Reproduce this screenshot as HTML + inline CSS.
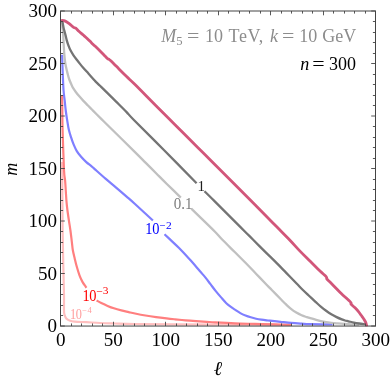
<!DOCTYPE html>
<html><head><meta charset="utf-8"><title>plot</title>
<style>html,body{margin:0;padding:0;background:#fff;overflow:hidden}body{width:390px;height:380px;position:relative;font-family:"Liberation Serif",serif}</style>
</head><body>
<svg width="390" height="380" viewBox="0 0 390 380" style="position:absolute;left:0;top:0;will-change:transform">
<rect width="390" height="380" fill="#fff"/>
<defs><clipPath id="cp"><rect x="60.00" y="10.50" width="316.00" height="316.05"/></clipPath></defs>
<g clip-path="url(#cp)" fill="none" stroke-linecap="butt" stroke-linejoin="round">
<path d="M61.90,162.00 C61.97,164.17 62.22,168.67 62.30,175.00 C62.38,181.33 62.35,190.83 62.40,200.00 C62.45,209.17 62.43,218.33 62.60,230.00 C62.77,241.67 63.17,259.17 63.40,270.00 C63.63,280.83 63.90,288.17 64.00,295.00 C64.10,301.83 63.88,307.62 64.00,311.00 C64.12,314.38 64.32,314.07 64.70,315.30 C65.08,316.53 65.50,317.53 66.30,318.40 C67.10,319.27 68.10,319.97 69.50,320.50 C70.90,321.03 71.90,321.32 74.70,321.60 C77.50,321.88 82.08,321.97 86.30,322.20 C90.52,322.43 95.22,322.78 100.00,323.00 C104.78,323.22 109.17,323.33 115.00,323.50 C120.83,323.67 125.00,323.85 135.00,324.00 C145.00,324.15 149.17,324.25 175.00,324.40 C200.83,324.55 270.83,324.82 290.00,324.90" stroke="#FFBFBF" stroke-width="2.20"/>
<path d="M62.10,95.30 C62.13,97.75 62.22,104.22 62.30,110.00 C62.38,115.78 62.32,120.00 62.60,130.00 C62.88,140.00 63.58,161.58 64.00,170.00 C64.42,178.42 64.80,177.00 65.10,180.50 C65.40,184.00 65.57,187.48 65.80,191.00 C66.03,194.52 66.23,198.43 66.50,201.60 C66.77,204.77 67.00,206.85 67.40,210.00 C67.80,213.15 68.38,217.00 68.90,220.50 C69.42,224.00 70.02,227.48 70.50,231.00 C70.98,234.52 71.42,238.43 71.80,241.60 C72.18,244.77 72.32,247.20 72.80,250.00 C73.28,252.80 74.03,255.60 74.70,258.40 C75.37,261.20 76.00,263.98 76.80,266.80 C77.60,269.62 78.53,272.75 79.50,275.30 C80.47,277.85 81.55,280.18 82.60,282.10 C83.65,284.02 85.15,285.87 85.80,286.80 C86.45,287.73 86.38,287.55 86.50,287.70" stroke="#FF7F7F" stroke-width="2.20"/>
<path d="M96.60,300.50 C97.38,300.92 99.47,302.10 101.30,303.00 C103.13,303.90 105.50,305.02 107.60,305.90 C109.70,306.78 111.62,307.55 113.90,308.30 C116.18,309.05 118.83,309.77 121.30,310.40 C123.77,311.03 126.42,311.58 128.70,312.10 C130.98,312.62 132.20,312.93 135.00,313.50 C137.80,314.07 141.98,314.90 145.50,315.50 C149.02,316.10 152.58,316.62 156.10,317.10 C159.62,317.58 163.45,318.03 166.60,318.40 C169.75,318.77 171.85,318.98 175.00,319.30 C178.15,319.62 182.00,320.00 185.50,320.30 C189.00,320.60 192.48,320.85 196.00,321.10 C199.52,321.35 203.43,321.58 206.60,321.80 C209.77,322.02 210.27,322.13 215.00,322.40 C219.73,322.67 228.33,323.15 235.00,323.40 C241.67,323.65 248.33,323.73 255.00,323.90 C261.67,324.07 269.00,324.25 275.00,324.40 C281.00,324.55 288.33,324.73 291.00,324.80" stroke="#FF7F7F" stroke-width="2.20"/>
<path d="M62.10,54.70 C62.20,57.58 62.47,66.12 62.70,72.00 C62.93,77.88 63.17,85.25 63.50,90.00 C63.83,94.75 64.32,97.00 64.70,100.50 C65.08,104.00 65.35,107.48 65.80,111.00 C66.25,114.52 66.88,118.43 67.40,121.60 C67.92,124.77 68.28,127.37 68.90,130.00 C69.52,132.63 70.30,134.95 71.10,137.40 C71.90,139.85 72.75,142.42 73.70,144.70 C74.65,146.98 75.57,149.08 76.80,151.10 C78.03,153.12 79.52,154.97 81.10,156.80 C82.68,158.63 84.55,160.52 86.30,162.10 C88.05,163.68 90.15,165.08 91.60,166.30 C93.05,167.52 92.68,167.33 95.00,169.40 C97.32,171.47 101.98,175.67 105.50,178.70 C109.02,181.73 112.58,184.62 116.10,187.60 C119.62,190.58 123.45,193.87 126.60,196.60 C129.75,199.33 130.62,200.02 135.00,204.00 C139.38,207.98 149.92,217.75 152.90,220.50" stroke="#7F7FFF" stroke-width="2.20"/>
<path d="M164.50,234.20 C165.42,235.07 167.33,236.87 170.00,239.40 C172.67,241.93 177.00,245.83 180.50,249.40 C184.00,252.97 187.75,257.15 191.00,260.80 C194.25,264.45 197.62,268.53 200.00,271.30 C202.38,274.07 203.55,275.25 205.30,277.40 C207.05,279.55 208.75,281.92 210.50,284.20 C212.25,286.48 214.03,288.90 215.80,291.10 C217.57,293.30 219.35,295.38 221.10,297.40 C222.85,299.42 224.55,301.53 226.30,303.20 C228.05,304.87 230.08,306.28 231.60,307.40 C233.12,308.52 233.95,308.95 235.40,309.90 C236.85,310.85 238.62,312.17 240.30,313.10 C241.98,314.03 243.75,314.80 245.50,315.50 C247.25,316.20 249.03,316.77 250.80,317.30 C252.57,317.83 254.35,318.30 256.10,318.70 C257.85,319.10 259.55,319.42 261.30,319.70 C263.05,319.98 265.15,320.23 266.60,320.40 C268.05,320.57 267.68,320.47 270.00,320.70 C272.32,320.93 277.00,321.43 280.50,321.80 C284.00,322.17 287.48,322.58 291.00,322.90 C294.52,323.22 298.43,323.48 301.60,323.70 C304.77,323.92 304.83,324.08 310.00,324.20 C315.17,324.32 328.83,324.37 332.60,324.40" stroke="#7F7FFF" stroke-width="2.20"/>
<path d="M62.00,21.50 C62.05,22.35 62.15,25.02 62.30,26.60 C62.45,28.18 62.72,29.03 62.90,31.00 C63.08,32.97 63.25,35.77 63.40,38.40 C63.55,41.03 63.63,43.98 63.80,46.80 C63.97,49.62 64.18,52.77 64.40,55.30 C64.62,57.83 64.85,60.13 65.10,62.00 C65.35,63.87 65.48,64.57 65.90,66.50 C66.32,68.43 67.03,71.43 67.60,73.60 C68.17,75.77 68.60,77.53 69.30,79.50 C70.00,81.47 71.15,83.95 71.80,85.40 C72.45,86.85 72.53,87.10 73.20,88.20 C73.87,89.30 74.82,90.68 75.80,92.00 C76.78,93.32 77.83,94.62 79.10,96.10 C80.37,97.58 81.97,99.37 83.40,100.90 C84.83,102.43 86.28,103.87 87.70,105.30 C89.12,106.73 90.50,108.10 91.90,109.50 C93.30,110.90 94.42,112.02 96.10,113.70 C97.78,115.38 99.68,117.30 102.00,119.60 C104.32,121.90 104.50,122.08 110.00,127.50 C115.50,132.92 129.08,146.25 135.00,152.10 C140.92,157.95 141.98,159.08 145.50,162.60 C149.02,166.12 152.58,169.68 156.10,173.20 C159.62,176.72 162.48,179.63 166.60,183.70 C170.72,187.77 178.43,195.28 180.80,197.60" stroke="#C0C0C0" stroke-width="2.30"/>
<path d="M191.30,208.70 C192.88,210.23 196.85,214.05 200.80,217.90 C204.75,221.75 211.40,228.15 215.00,231.80 C218.60,235.45 219.07,236.38 222.40,239.80 C225.73,243.22 231.15,248.47 235.00,252.30 C238.85,256.13 242.00,259.23 245.50,262.80 C249.00,266.37 252.48,270.05 256.00,273.70 C259.52,277.35 263.97,281.98 266.60,284.70 C269.23,287.42 269.30,287.45 271.80,290.00 C274.30,292.55 279.27,297.63 281.60,300.00 C283.93,302.37 284.23,302.72 285.80,304.20 C287.37,305.68 289.25,307.50 291.00,308.90 C292.75,310.30 294.53,311.53 296.30,312.60 C298.07,313.67 299.85,314.55 301.60,315.30 C303.35,316.05 305.35,316.62 306.80,317.10 C308.25,317.58 308.85,317.77 310.30,318.20 C311.75,318.63 313.75,319.22 315.50,319.70 C317.25,320.18 319.03,320.68 320.80,321.10 C322.57,321.52 324.35,321.90 326.10,322.20 C327.85,322.50 329.55,322.70 331.30,322.90 C333.05,323.10 334.32,323.22 336.60,323.40 C338.88,323.58 341.27,323.78 345.00,324.00 C348.73,324.22 356.67,324.58 359.00,324.70" stroke="#C0C0C0" stroke-width="2.30"/>
<path d="M62.00,21.00 C62.10,21.27 62.32,21.35 62.60,22.60 C62.88,23.85 63.42,27.18 63.70,28.50 C63.98,29.82 64.00,29.40 64.30,30.50 C64.60,31.60 65.10,33.50 65.50,35.10 C65.90,36.70 66.22,38.38 66.70,40.10 C67.18,41.82 67.77,43.70 68.40,45.40 C69.03,47.10 69.65,48.65 70.50,50.30 C71.35,51.95 72.45,53.72 73.50,55.30 C74.55,56.88 75.72,58.37 76.80,59.80 C77.88,61.23 78.93,62.58 80.00,63.90 C81.07,65.22 81.80,66.10 83.20,67.70 C84.60,69.30 86.65,71.55 88.40,73.50 C90.15,75.45 92.60,78.17 93.70,79.40 C94.80,80.63 93.95,79.85 95.00,80.90 C96.05,81.95 98.25,84.00 100.00,85.70 C101.75,87.40 102.82,88.45 105.50,91.10 C108.18,93.75 112.58,98.10 116.10,101.60 C119.62,105.10 123.63,109.03 126.60,112.10 C129.57,115.17 127.68,113.68 133.90,120.00 C140.12,126.32 153.45,139.47 163.90,150.00 C174.35,160.53 191.15,177.67 196.60,183.20" stroke="#747474" stroke-width="2.30"/>
<path d="M204.50,191.20 C206.25,192.93 211.50,198.12 215.00,201.60 C218.50,205.08 222.00,208.60 225.50,212.10 C229.00,215.60 232.48,219.08 236.00,222.60 C239.52,226.12 243.70,230.30 246.60,233.20 C249.50,236.10 250.33,236.93 253.40,240.00 C256.47,243.07 261.32,247.95 265.00,251.60 C268.68,255.25 272.00,258.40 275.50,261.90 C279.00,265.40 282.48,269.00 286.00,272.60 C289.52,276.20 293.78,280.60 296.60,283.50 C299.42,286.40 300.88,288.00 302.90,290.00 C304.92,292.00 306.60,293.53 308.70,295.50 C310.80,297.47 313.48,299.95 315.50,301.80 C317.52,303.65 319.03,305.10 320.80,306.60 C322.57,308.10 324.35,309.52 326.10,310.80 C327.85,312.08 329.55,313.25 331.30,314.30 C333.05,315.35 334.85,316.25 336.60,317.10 C338.35,317.95 340.40,318.83 341.80,319.40 C343.20,319.97 343.88,320.18 345.00,320.50 C346.12,320.82 347.03,320.95 348.50,321.30 C349.97,321.65 352.05,322.23 353.80,322.60 C355.55,322.97 357.07,323.23 359.00,323.50 C360.93,323.77 364.33,324.08 365.40,324.20" stroke="#747474" stroke-width="2.30"/>
<path d="M61.05,20.30 C61.76,20.43 63.89,20.50 65.30,21.10 C66.71,21.70 68.10,22.85 69.50,23.90 C70.90,24.95 72.65,26.68 73.70,27.40 C74.75,28.12 74.93,27.55 75.80,28.20 C76.67,28.85 77.67,30.17 78.90,31.30 C80.13,32.43 81.78,33.77 83.20,35.00 C84.62,36.23 86.00,37.38 87.40,38.70 C88.80,40.02 90.33,41.67 91.60,42.90 C92.87,44.13 93.55,44.70 95.00,46.10 C96.45,47.50 98.55,49.55 100.30,51.30 C102.05,53.05 104.22,55.32 105.50,56.60 C106.78,57.88 107.42,58.55 108.00,59.00 C108.58,59.45 108.53,59.00 109.00,59.30 C109.47,59.60 109.62,59.67 110.80,60.80 C111.98,61.93 113.47,63.47 116.10,66.10 C118.73,68.73 123.45,73.53 126.60,76.60 C129.75,79.67 130.10,79.65 135.00,84.50 C139.90,89.35 149.33,99.00 156.00,105.70 C162.67,112.40 168.33,118.02 175.00,124.70 C181.67,131.38 190.12,139.92 196.00,145.80 C201.88,151.68 200.47,150.17 210.30,160.00 C220.13,169.83 244.05,193.78 255.00,204.80 C265.95,215.82 270.22,220.23 276.00,226.10 C281.78,231.97 285.70,235.83 289.70,240.00 C293.70,244.17 296.53,247.50 300.00,251.10 C303.47,254.70 307.17,258.27 310.50,261.60 C313.83,264.93 317.37,268.57 320.00,271.10 C322.63,273.63 325.17,275.50 326.30,276.80 C327.43,278.10 326.10,277.93 326.80,278.90 C327.50,279.87 328.13,280.22 330.50,282.60 C332.87,284.98 337.67,289.95 341.00,293.20 C344.33,296.45 348.83,300.27 350.50,302.10 C352.17,303.93 350.28,303.28 351.00,304.20 C351.72,305.12 353.55,306.37 354.80,307.60 C356.05,308.83 357.43,310.32 358.50,311.60 C359.57,312.88 360.32,314.08 361.20,315.30 C362.08,316.52 363.07,317.77 363.80,318.90 C364.53,320.03 365.17,321.13 365.60,322.10 C366.03,323.07 366.20,323.95 366.40,324.70 C366.60,325.45 366.73,326.28 366.80,326.60" stroke="#D2567A" stroke-width="2.80"/>
</g>
<path d="M60.50,326.05 v-4.30 M60.50,11.00 v4.30 M60.50,326.00 h4.30 M375.50,326.00 h-4.30 M71.50,326.05 v-2.60 M71.50,11.00 v2.60 M60.50,315.50 h2.60 M375.50,315.50 h-2.60 M81.50,326.05 v-2.60 M81.50,11.00 v2.60 M60.50,305.50 h2.60 M375.50,305.50 h-2.60 M92.50,326.05 v-2.60 M92.50,11.00 v2.60 M60.50,294.50 h2.60 M375.50,294.50 h-2.60 M102.50,326.05 v-2.60 M102.50,11.00 v2.60 M60.50,284.50 h2.60 M375.50,284.50 h-2.60 M113.50,326.05 v-4.30 M113.50,11.00 v4.30 M60.50,273.50 h4.30 M375.50,273.50 h-4.30 M123.50,326.05 v-2.60 M123.50,11.00 v2.60 M60.50,263.50 h2.60 M375.50,263.50 h-2.60 M134.50,326.05 v-2.60 M134.50,11.00 v2.60 M60.50,252.50 h2.60 M375.50,252.50 h-2.60 M144.50,326.05 v-2.60 M144.50,11.00 v2.60 M60.50,242.50 h2.60 M375.50,242.50 h-2.60 M155.50,326.05 v-2.60 M155.50,11.00 v2.60 M60.50,231.50 h2.60 M375.50,231.50 h-2.60 M165.50,326.05 v-4.30 M165.50,11.00 v4.30 M60.50,221.00 h4.30 M375.50,221.00 h-4.30 M176.50,326.05 v-2.60 M176.50,11.00 v2.60 M60.50,210.50 h2.60 M375.50,210.50 h-2.60 M186.50,326.05 v-2.60 M186.50,11.00 v2.60 M60.50,200.50 h2.60 M375.50,200.50 h-2.60 M197.50,326.05 v-2.60 M197.50,11.00 v2.60 M60.50,189.50 h2.60 M375.50,189.50 h-2.60 M207.50,326.05 v-2.60 M207.50,11.00 v2.60 M60.50,179.50 h2.60 M375.50,179.50 h-2.60 M218.50,326.05 v-4.30 M218.50,11.00 v4.30 M60.50,168.50 h4.30 M375.50,168.50 h-4.30 M228.50,326.05 v-2.60 M228.50,11.00 v2.60 M60.50,158.50 h2.60 M375.50,158.50 h-2.60 M239.50,326.05 v-2.60 M239.50,11.00 v2.60 M60.50,147.50 h2.60 M375.50,147.50 h-2.60 M249.50,326.05 v-2.60 M249.50,11.00 v2.60 M60.50,137.50 h2.60 M375.50,137.50 h-2.60 M260.50,326.05 v-2.60 M260.50,11.00 v2.60 M60.50,126.50 h2.60 M375.50,126.50 h-2.60 M270.50,326.05 v-4.30 M270.50,11.00 v4.30 M60.50,116.00 h4.30 M375.50,116.00 h-4.30 M281.50,326.05 v-2.60 M281.50,11.00 v2.60 M60.50,105.50 h2.60 M375.50,105.50 h-2.60 M291.50,326.05 v-2.60 M291.50,11.00 v2.60 M60.50,95.50 h2.60 M375.50,95.50 h-2.60 M302.50,326.05 v-2.60 M302.50,11.00 v2.60 M60.50,84.50 h2.60 M375.50,84.50 h-2.60 M312.50,326.05 v-2.60 M312.50,11.00 v2.60 M60.50,74.50 h2.60 M375.50,74.50 h-2.60 M323.50,326.05 v-4.30 M323.50,11.00 v4.30 M60.50,63.50 h4.30 M375.50,63.50 h-4.30 M333.50,326.05 v-2.60 M333.50,11.00 v2.60 M60.50,53.50 h2.60 M375.50,53.50 h-2.60 M344.50,326.05 v-2.60 M344.50,11.00 v2.60 M60.50,42.50 h2.60 M375.50,42.50 h-2.60 M354.50,326.05 v-2.60 M354.50,11.00 v2.60 M60.50,32.50 h2.60 M375.50,32.50 h-2.60 M365.50,326.05 v-2.60 M365.50,11.00 v2.60 M60.50,21.50 h2.60 M375.50,21.50 h-2.60 M375.50,326.05 v-4.30 M375.50,11.00 v4.30 M60.50,11.00 h4.30 M375.50,11.00 h-4.30" stroke="#444" stroke-width="0.9" fill="none"/>
<rect x="60.50" y="11.00" width="315.00" height="315.05" fill="none" stroke="#444" stroke-width="1"/>
<g font-family="Liberation Serif, serif" font-size="18px" fill="#000">
<text transform="translate(60.80,346.00) scale(1.06,1)" text-anchor="middle">0</text>
<text transform="translate(57.10,332.10) scale(1.06,1)" text-anchor="end">0</text>
<text transform="translate(113.30,346.00) scale(1.06,1)" text-anchor="middle">50</text>
<text transform="translate(57.10,279.60) scale(1.06,1)" text-anchor="end">50</text>
<text transform="translate(165.80,346.00) scale(1.06,1)" text-anchor="middle">100</text>
<text transform="translate(57.10,227.10) scale(1.06,1)" text-anchor="end">100</text>
<text transform="translate(218.30,346.00) scale(1.06,1)" text-anchor="middle">150</text>
<text transform="translate(57.10,174.60) scale(1.06,1)" text-anchor="end">150</text>
<text transform="translate(270.80,346.00) scale(1.06,1)" text-anchor="middle">200</text>
<text transform="translate(57.10,122.10) scale(1.06,1)" text-anchor="end">200</text>
<text transform="translate(323.30,346.00) scale(1.06,1)" text-anchor="middle">250</text>
<text transform="translate(57.10,69.60) scale(1.06,1)" text-anchor="end">250</text>
<text transform="translate(375.80,346.00) scale(1.06,1)" text-anchor="middle">300</text>
<text transform="translate(57.10,17.10) scale(1.06,1)" text-anchor="end">300</text>
<text transform="translate(17,169.2) rotate(-90)" text-anchor="middle" font-style="italic">m</text>
<text x="218.0" y="375.3" text-anchor="middle" font-style="italic" font-size="20px">ℓ</text>
<text x="161.30" y="41.80" fill="#8c8c8c"><tspan font-style="italic">M</tspan><tspan font-size="12.7px" dy="3.2">5</tspan></text>
<text transform="translate(187.10,41.80) scale(1.22,1)" fill="#8c8c8c">=</text>
<text x="205.00" y="41.80" fill="#8c8c8c">10</text>
<text x="228.60" y="41.80" fill="#8c8c8c"><tspan letter-spacing="0.6">TeV,</tspan></text>
<text x="269.90" y="41.80" fill="#8c8c8c"><tspan font-style="italic">k</tspan></text>
<text transform="translate(282.00,41.80) scale(1.22,1)" fill="#8c8c8c">=</text>
<text x="299.30" y="41.80" fill="#8c8c8c">10</text>
<text x="322.20" y="41.80" fill="#8c8c8c">GeV</text>
<text x="300.30" y="70.00" fill="#000"><tspan font-style="italic">n</tspan></text>
<text transform="translate(312.20,70.00) scale(1.22,1)" fill="#000">=</text>
<text x="329.10" y="70.00" fill="#000">300</text>
</g>
<g font-family="Liberation Serif, serif">
<text transform="translate(197.6,191) scale(1,1.04)" font-size="15px" fill="#1f1f1f">1</text>
<text transform="translate(173.8,208.6) scale(1,1.08)" font-size="15px" fill="#808080">0.1</text>
<text transform="translate(145.30,233.90) scale(0.930,1.080)" font-size="15.5px" letter-spacing="-0.40" fill="#0000ff">10</text>
<text transform="translate(159.60,229.00) scale(0.900,1)" font-size="11.8px" fill="#0000ff">−</text>
<text transform="translate(166.10,228.60) scale(1.000,1)" font-size="11.4px" fill="#0000ff">2</text>
<text transform="translate(82.40,300.80) scale(0.930,1.080)" font-size="15.5px" letter-spacing="-0.40" fill="#ff0000">10</text>
<text transform="translate(96.20,294.90) scale(0.980,1)" font-size="11.8px" fill="#ff0000">−</text>
<text transform="translate(102.80,294.20) scale(1.000,1)" font-size="11.4px" fill="#ff0000">3</text>
<text transform="translate(70.00,318.70) scale(0.970,1.100)" font-size="12.7px" letter-spacing="-0.30" fill="#ff9c9c">10</text>
<text transform="translate(82.20,313.40) scale(0.950,1)" font-size="8.8px" fill="#ff9c9c">−</text>
<text transform="translate(87.50,313.20) scale(1.000,1)" font-size="8.4px" fill="#ff9c9c">4</text>
</g>
</svg>
</body></html>
